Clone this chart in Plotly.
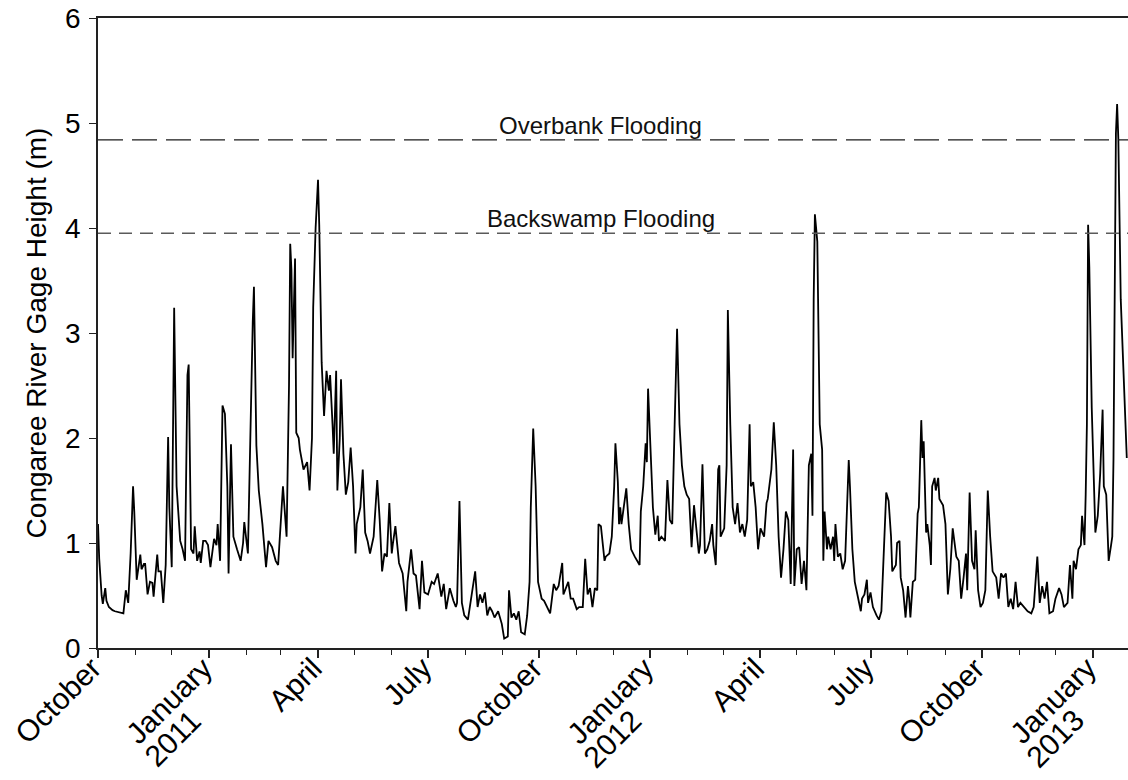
import pandas as pd
import plotly.graph_objects as go

start_date = "2010-10-01"

# Day offsets from 1 Oct 2010 and gage heights (m)
days = [
    0, 1, 3, 4, 6, 7, 9, 12, 14, 17, 21, 23, 25, 27, 29, 30, 32, 35, 36, 38,
    39, 41, 43, 45, 46, 49, 50, 52, 54, 56, 58, 59, 61, 63, 64, 65, 68, 70, 72, 74,
    75, 76, 77, 79, 80, 82, 84, 85, 87, 89, 91, 93, 96, 98, 99, 101, 102, 103, 105, 107,
    108, 110, 111, 112, 115, 118, 120, 121, 124, 126, 127, 128, 129, 131, 133, 136, 139, 141, 144, 147,
    149, 151, 153, 156, 158, 159, 160, 161, 163, 164, 166, 167, 170, 173, 175, 177, 178, 180, 182, 183,
    185, 187, 189, 191, 192, 194, 195, 197, 198, 200, 201, 203, 205, 207, 209, 211, 213,
    214, 217, 219, 221, 223, 225, 228, 231, 233, 235, 237, 239, 241, 243, 244, 246, 249, 252, 255, 256,
    259, 261, 263, 266, 268, 270, 273, 276, 278, 281, 284, 286, 288, 291, 294, 296, 297, 299, 301, 303,
    306, 309, 311, 312, 314, 316, 318, 320, 322, 324, 326, 328, 331, 334, 336, 339, 340, 342, 344, 346,
    348, 350, 353, 355, 357, 358, 360, 362, 364, 367, 369, 372, 374, 377, 379, 381, 384, 385, 387, 389,
    391, 393, 396, 398, 401, 403, 405, 407, 409, 411, 413, 414, 416, 419, 420, 423, 425,
    427, 428, 430, 431, 432, 433, 435, 437, 439, 441, 444, 446, 448, 449, 451, 453, 454, 455, 457, 459,
    461, 463, 464, 466, 469, 471, 473, 475, 477, 479, 481, 483, 485, 487, 489, 491, 493, 495, 497, 498,
    500, 502, 504, 506, 508, 509, 511, 513, 514, 515, 518, 520, 521, 523, 525, 527, 529, 531, 533, 535,
    537, 539, 540, 542, 544, 546, 548, 551, 553, 554, 557, 559, 561, 563, 565, 567, 569, 571, 573, 575,
    576, 578, 580, 582, 584, 586, 588, 590, 591, 592, 593, 595, 597, 599, 600, 601, 603, 604, 606, 608,
    609, 610, 612, 614, 616, 618, 619, 621, 622, 624, 626, 628, 631, 632, 634, 636,
    637, 639, 641, 644, 646, 648, 650, 652, 654, 656, 657, 660, 661, 663, 664, 666, 668, 670, 671, 672,
    674, 676, 678, 679, 681, 682, 683, 685, 686, 688, 689, 690, 692, 693, 695, 696, 699, 701, 703, 705,
    707, 708, 710, 712, 714, 716, 718, 719, 721, 723, 725, 726, 728, 730, 732, 734, 736, 738, 740, 743,
    745, 747, 749, 751, 753, 755, 757, 759, 761, 763, 766, 769, 772, 774, 777, 779, 781, 783, 785, 787,
    790, 792, 795, 797, 799, 802, 804, 806, 807, 809, 811, 813, 814, 816, 817, 818, 819, 820, 822, 824,
    825, 827, 828, 829, 831, 832, 834, 835, 836, 838, 839, 840, 841, 842, 843, 844, 846, 849, 851,
]
gage_height = [
    1.18, 0.85, 0.50, 0.42, 0.57, 0.45, 0.39, 0.36, 0.35, 0.34, 0.33, 0.55, 0.43, 0.90, 1.54, 1.30, 0.65, 0.89, 0.75, 0.80,
    0.80, 0.51, 0.63, 0.62, 0.49, 0.89, 0.73, 0.73, 0.43, 0.79, 2.01, 1.34, 0.77, 3.24, 2.20, 1.54, 1.02, 0.94, 0.83, 2.60,
    2.70, 1.60, 0.94, 0.90, 1.16, 0.83, 0.92, 0.81, 1.02, 1.02, 0.98, 0.77, 1.04, 0.98, 1.18, 0.83, 1.60, 2.31, 2.23, 1.54,
    0.71, 1.94, 1.50, 1.06, 0.94, 0.83, 1.00, 1.20, 0.90, 2.00, 2.72, 3.10, 3.44, 1.93, 1.50, 1.18, 0.77, 1.02, 0.96, 0.83,
    0.79, 1.18, 1.54, 1.06, 2.50, 3.85, 3.60, 2.76, 3.71, 2.05, 2.00, 1.89, 1.70, 1.77, 1.50, 2.00, 3.24, 4.00, 4.46, 4.03,
    2.72, 2.21, 2.64, 2.45, 2.60, 2.13, 1.85, 2.64, 1.50, 2.00, 2.56, 1.85, 1.46, 1.58, 1.91, 1.54, 0.90,
    1.18, 1.34, 1.70, 1.10, 1.02, 0.90, 1.06, 1.60, 1.22, 0.73, 0.90, 0.87, 1.38, 0.90, 1.00, 1.16, 0.81, 0.71, 0.35, 0.63,
    0.94, 0.71, 0.69, 0.37, 0.83, 0.53, 0.51, 0.63, 0.61, 0.71, 0.49, 0.61, 0.37, 0.57, 0.45, 0.39, 0.43, 1.40, 0.43, 0.31,
    0.27, 0.51, 0.63, 0.73, 0.39, 0.51, 0.43, 0.53, 0.31, 0.39, 0.35, 0.29, 0.35, 0.23, 0.09, 0.11, 0.55, 0.29, 0.33, 0.27,
    0.35, 0.15, 0.13, 0.31, 0.63, 1.34, 2.09, 1.54, 0.63, 0.47, 0.45, 0.37, 0.33, 0.61, 0.55, 0.59, 0.81, 0.51, 0.57, 0.63,
    0.47, 0.47, 0.37, 0.39, 0.39, 0.85, 0.51, 0.57, 0.39, 0.57, 0.55, 1.18, 1.16, 0.83, 0.87, 0.90, 1.06,
    1.54, 1.95, 1.58, 1.18, 1.34, 1.18, 1.34, 1.52, 1.18, 0.94, 0.87, 0.83, 0.79, 1.30, 1.54, 1.95, 1.77, 2.47, 1.81, 1.34,
    1.08, 1.26, 1.02, 1.06, 1.02, 1.60, 1.22, 1.18, 2.13, 3.04, 2.13, 1.74, 1.54, 1.46, 1.42, 0.96, 1.36, 1.10, 0.90, 0.98,
    1.75, 0.90, 0.94, 1.02, 1.18, 0.98, 0.79, 1.70, 1.74, 1.06, 1.14, 1.74, 3.22, 2.13, 1.34, 1.18, 1.38, 1.10, 1.18, 1.06,
    1.22, 2.13, 1.54, 1.58, 1.34, 0.94, 1.14, 1.06, 1.38, 1.42, 1.70, 2.15, 1.74, 1.06, 0.67, 0.94, 1.30, 1.22, 0.61, 1.89,
    0.59, 0.94, 0.96, 0.61, 0.83, 0.55, 1.74, 1.85, 1.26, 3.32, 4.13, 3.87, 2.13, 1.89, 0.83, 1.30, 0.94, 1.06, 0.94, 1.06,
    0.83, 1.18, 0.87, 0.90, 0.75, 0.83, 1.10, 1.79, 1.54, 0.94, 0.63, 0.51, 0.35, 0.47, 0.51, 0.65,
    0.43, 0.53, 0.39, 0.31, 0.27, 0.35, 0.90, 1.48, 1.40, 1.06, 0.73, 0.79, 1.00, 1.02, 0.67, 0.55, 0.29, 0.59, 0.47, 0.29,
    0.63, 0.65, 1.28, 1.34, 2.17, 1.81, 1.97, 1.10, 1.18, 0.98, 0.79, 1.54, 1.62, 1.50, 1.62, 1.42, 1.36, 1.18, 0.51, 0.75,
    1.14, 1.06, 0.87, 0.83, 0.47, 0.67, 0.90, 0.55, 1.48, 0.83, 0.75, 1.12, 0.55, 0.39, 0.43, 0.55, 1.50, 1.06, 0.73, 0.67,
    0.47, 0.71, 0.67, 0.71, 0.39, 0.47, 0.37, 0.63, 0.39, 0.43, 0.39, 0.35, 0.33, 0.39, 0.87, 0.43, 0.59, 0.47, 0.63, 0.33,
    0.35, 0.47, 0.57, 0.51, 0.39, 0.43, 0.79, 0.47, 0.83, 0.75, 0.94, 0.98, 1.26, 0.98, 1.46, 2.13, 4.03, 3.63, 2.29, 1.42,
    1.10, 1.26, 1.42, 1.66, 2.27, 1.54, 1.46, 1.02, 0.83, 0.98, 1.06, 1.80, 3.20, 4.90, 5.18, 4.85, 3.32, 2.29, 1.81,
]

# Flood thresholds
threshold_values = [4.84, 3.95]
threshold_labels = ["Overbank Flooding", "Backswamp Flooding"]

# Axis ticks
x_tick_dates = ["2010-10-01", "2011-01-01", "2011-04-01", "2011-07-01", "2011-10-01",
                "2012-01-01", "2012-04-01", "2012-07-01", "2012-10-01", "2013-01-01"]
x_tick_months = ["October", "January", "April", "July", "October",
                 "January", "April", "July", "October", "January"]
x_tick_years = ["", "2011", "", "", "", "2012", "", "", "", "2013"]
y_ticks = [0, 1, 2, 3, 4, 5, 6]

dates = pd.Timestamp(start_date) + pd.to_timedelta(days, unit="D")

FONT = "Liberation Sans, Arial, sans-serif"
TICK_SIZE = 28
XLAB_SIZE = 30
fig = go.Figure()
fig.add_trace(go.Scatter(x=dates, y=gage_height, mode="lines",
                         line=dict(color="black", width=1.8), showlegend=False))

dash_styles = ["25px,9px", "13px,8px"]
dash_colors = ["#1a1a1a", "#5a5a5a"]
for val, lab, dsh, col in zip(threshold_values, threshold_labels, dash_styles, dash_colors):
    fig.add_shape(type="line", xref="paper", x0=0, x1=1, yref="y", y0=val, y1=val,
                  line=dict(color=col, width=1.3, dash=dsh))
    fig.add_annotation(x=pd.Timestamp(start_date) + pd.Timedelta(days=416), y=val,
                       text=lab, showarrow=False, yanchor="bottom", yshift=-1,
                       font=dict(family=FONT, size=24, color="#111111"))

# rotated x tick labels (month, with year placed underneath as in the original)
for d, m, yr in zip(x_tick_dates, x_tick_months, x_tick_years):
    fig.add_annotation(x=pd.Timestamp(d), xref="x", y=0, yref="paper", text=m,
                       textangle=-45, showarrow=False, xanchor="right", yanchor="top",
                       xshift=11, yshift=-2, borderpad=0,
                       font=dict(family=FONT, size=XLAB_SIZE, color="black"))
    if yr:
        fig.add_annotation(x=pd.Timestamp(d), xref="x", y=0, yref="paper", text=yr,
                           textangle=-45, showarrow=False, xanchor="right", yanchor="top",
                           xshift=-1, yshift=-54, borderpad=0,
                           font=dict(family=FONT, size=XLAB_SIZE, color="black"))

x_end = pd.Timestamp(start_date) + pd.Timedelta(days=852)
fig.update_layout(
    width=1128, height=780,
    margin=dict(l=98, r=0, t=18, b=132),
    paper_bgcolor="white", plot_bgcolor="white",
    font=dict(family=FONT, size=TICK_SIZE, color="black"),
    xaxis=dict(
        range=[pd.Timestamp(start_date), x_end],
        tickmode="array", tickvals=pd.to_datetime(x_tick_dates), showticklabels=False,
        ticks="outside", ticklen=8, tickwidth=2, tickcolor="#222",
        showline=True, linecolor="#222", linewidth=1.5, mirror=True,
        showgrid=False, zeroline=False,
        minor=dict(dtick="M1", tick0=start_date, ticks="outside", ticklen=5,
                   tickwidth=1, tickcolor="#222", showgrid=False),
    ),
    yaxis=dict(
        range=[0, 6], tickmode="array", tickvals=y_ticks,
        ticks="outside", ticklen=7, tickwidth=1.2, tickcolor="#222",
        showline=True, linecolor="#222", linewidth=1.5, mirror=False,
        showgrid=False, zeroline=False,
        title=dict(text="Congaree River Gage Height (m)", font=dict(size=TICK_SIZE), standoff=10),
        tickfont=dict(size=TICK_SIZE),
        ticklabelstandoff=3,
    ),
)

fig.write_html("out.html")
